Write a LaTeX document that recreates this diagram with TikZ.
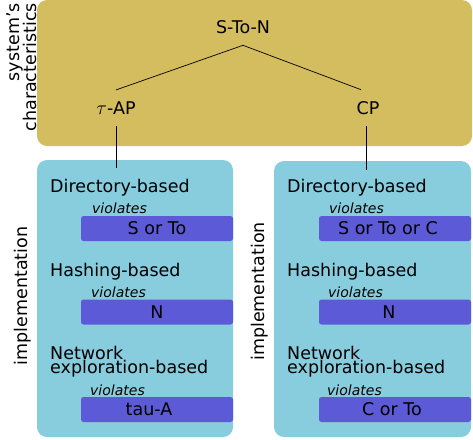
\documentclass[tikz,border=0pt]{standalone}
\usepackage{fontspec}
\setmainfont{DejaVu Sans}
\definecolor{goldbox}{HTML}{D4BD5F}
\definecolor{bluebox}{HTML}{88CDDE}
\definecolor{barcol}{HTML}{5C5AD6}
\begin{document}
\begin{tikzpicture}[x=1pt,y=-1pt,
  big/.style={font=\fontsize{17.5}{14}\selectfont},
  small/.style={font=\fontsize{14}{16}\selectfont\itshape},
  lbl/.style={big,inner sep=0pt,anchor=base west},
  viol/.style={small,inner sep=0pt,anchor=base west},
  tnode/.style={big,inner xsep=2pt,inner ysep=11.5pt},
  bar/.style={big,fill=barcol,rounded corners=2.5pt,inner sep=0pt,minimum height=25pt},
  box/.style={rounded corners=10pt},
  edge/.style={draw=black,line width=0.7pt}]
\useasboundingbox (0,0) rectangle (473,439);
% boxes
\fill[goldbox,box] (37,0) rectangle (472,146);
\fill[bluebox,box] (37,160) rectangle (233,437);
\fill[bluebox,box] (274,161) rectangle (471,437);
% side labels
\node[big,rotate=90,anchor=east,align=right,inner sep=0pt,
      font=\fontsize{17.5}{17}\selectfont] (sysch) at (22,3) {system's\\characteristics};
\node[big,rotate=90,inner sep=0pt] (impl1) at (23,296) {implementation};
\node[big,rotate=90,inner sep=0pt] (impl2) at (260,291.5) {implementation};
% tree
\node[tnode] (ston) at (243,27) {S-To-N};
\node[tnode] (tap) at (116,108) {\scalebox{1.15}{$\tau$}-AP};
\node[tnode] (cp) at (368,108) {CP};
\draw[edge] (ston.south) -- (tap.north);
\draw[edge] (ston.south) -- ([xshift=-7pt]cp.north);
\coordinate (lin) at (116,168);
\coordinate (rin) at (366,170);
\draw[edge] (tap.south) -- (lin);
\draw[edge] ([xshift=-2pt]cp.south) -- (rin);
% left box contents
\node[lbl] (ldir) at (50,192) {Directory-based};
\node[viol] (lv1) at (92,213) {violates};
\node[bar,minimum width=152pt] (lb1) at (157,228.5) {S or To};
\node[lbl] (lhash) at (50,276) {Hashing-based};
\node[viol] (lv2) at (91,297) {violates};
\node[bar,minimum width=152pt] (lb2) at (157,312) {N};
\node[lbl,align=left] (lnet) at (50,373) {Network\\exploration-based};
\node[viol] (lv3) at (90,395) {violates};
\node[bar,minimum width=152pt] (lb3) at (157,409.5) {\hspace*{-16pt}tau-A};
% right box contents
\node[lbl] (rdir) at (287,192) {Directory-based};
\node[viol] (rv1) at (329,213) {violates};
\node[bar,minimum width=152pt] (rb1) at (395,228.5) {\hspace*{-14pt}S or To or C};
\node[lbl] (rhash) at (287,276) {Hashing-based};
\node[viol] (rv2) at (328,297) {violates};
\node[bar,minimum width=152pt] (rb2) at (395,312) {\hspace*{-12pt}N};
\node[lbl,align=left] (rnet) at (287,373) {Network\\exploration-based};
\node[viol] (rv3) at (327,395) {violates};
\node[bar,minimum width=152pt] (rb3) at (395,409.5) {\hspace*{-6pt}C or To};
\end{tikzpicture}
\end{document}
